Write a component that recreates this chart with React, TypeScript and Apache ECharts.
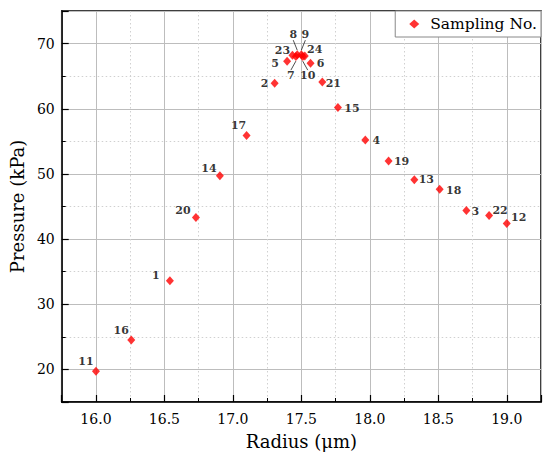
import React, { useEffect, useRef } from "react";
import * as echarts from "echarts";

// Sample numbers, radius (μm) and pressure (kPa)
const samples = ["1","2","3","4","5","6","7","8","9","10","11","12","13","14","15","16","17","18","19","20","21","22","23","24"];
const radius = [16.54, 17.305, 18.705, 17.967, 17.396, 17.567, 17.46, 17.47, 17.5, 17.51, 16.0, 19.0, 18.325, 16.905, 17.767, 16.258, 17.1, 18.51, 18.137, 16.73, 17.653, 18.871, 17.435, 17.525];
const pressure = [33.6, 63.9, 44.4, 55.2, 67.3, 67.0, 68.0, 68.3, 68.3, 68.0, 19.7, 42.4, 49.1, 49.7, 60.2, 24.5, 55.9, 47.65, 52.0, 43.3, 64.1, 43.6, 68.2, 68.1];
const seriesName = "Sampling No.";
const xAxisName = "Radius (μm)";
const yAxisName = "Pressure (kPa)";

// label placement (styling): offset of each label centre from its marker, in px
const labelOffsets: [number, number][] = [
  [-14, -5], [-10, 0], [9, 1], [11, 0], [-12, 2], [10, 0], [-5, 19], [-4, -20],
  [4, -20], [5, 19], [-10, -10], [12, -6], [12, 0], [-11, -7], [14, 1], [-10, -10],
  [-8, -10], [14, 1], [13, 1], [-13, -7], [11, 1], [11, -5], [-10, -5], [10, -6],
];
const leaderLabels = ["7", "8", "9", "10"];

const FONT = "DejaVu Serif";

export default function App() {
  const ref = useRef<HTMLDivElement>(null);
  useEffect(() => {
    if (!ref.current) return;
    const chart = echarts.init(ref.current, null, { renderer: "svg" });
    const data = samples.map((s, i) => ({
      name: s,
      value: [radius[i], pressure[i]],
      labelLine: { show: leaderLabels.includes(s) },
    }));
    const axisCommon = {
      type: "value" as const,
      axisLine: { show: true, lineStyle: { color: "#000", width: 1.5 } },
      axisTick: { show: true, inside: true, length: 7, lineStyle: { color: "#000", width: 1.2 } },
      minorTick: { show: true, splitNumber: 2, length: 4, lineStyle: { color: "#000", width: 1 } },
      splitLine: { show: true, lineStyle: { color: "#bdbdbd", width: 1, type: "solid" as const } },
      minorSplitLine: { show: true, lineStyle: { color: "#d0d0d0", width: 1, type: [1.5, 2.5] } },
      axisLabel: { color: "#000", fontSize: 14, fontFamily: FONT, showMinLabel: false, showMaxLabel: false },
      nameTextStyle: { color: "#000", fontSize: 18, fontFamily: FONT },
      nameLocation: "middle" as const,
    };
    chart.setOption({
      animation: false,
      backgroundColor: "#fff",
      textStyle: { fontFamily: FONT },
      grid: { left: 55, right: 9, top: 11, bottom: 69, show: true, borderColor: "#000", borderWidth: 1.5 },
      legend: {
        right: 9,
        top: 11,
        data: [{ name: seriesName, icon: "diamond" }],
        itemWidth: 10,
        itemHeight: 9,
        padding: [5, 4, 5, 14],
        borderColor: "#888",
        borderWidth: 1,
        backgroundColor: "#fff",
        textStyle: { color: "#000", fontSize: 15.5, fontFamily: FONT, padding: [0, 0, 0, 6] },
      },
      xAxis: {
        ...axisCommon,
        min: 15.75,
        max: 19.25,
        splitNumber: 7,
        name: xAxisName,
        nameGap: 30,
        axisLabel: { ...axisCommon.axisLabel, margin: 10, formatter: (v: number) => v.toFixed(1) },
      },
      yAxis: {
        ...axisCommon,
        min: 15,
        max: 75,
        splitNumber: 6,
        name: yAxisName,
        nameGap: 28,
        axisLabel: { ...axisCommon.axisLabel, margin: 7 },
      },
      series: [
        {
          type: "scatter",
          name: seriesName,
          symbol: "diamond",
          symbolSize: [8, 9],
          itemStyle: { color: "#ff0000" },
          data,
          label: {
            show: true,
            position: "inside",
            formatter: "{b}",
            color: "#000",
            fontWeight: "bold",
            fontSize: 11,
            fontFamily: FONT,
          },
          labelLine: { show: false, lineStyle: { color: "#222", width: 0.8 } },
          labelLayout: (p: any) => {
            const o = labelOffsets[p.dataIndex];
            return { dx: o[0], dy: o[1] };
          },
        },
      ],
    });
    return () => chart.dispose();
  }, []);
  return <div ref={ref} style={{ position: "fixed", left: 0, top: 0, width: 550, height: 471 }} />;
}
